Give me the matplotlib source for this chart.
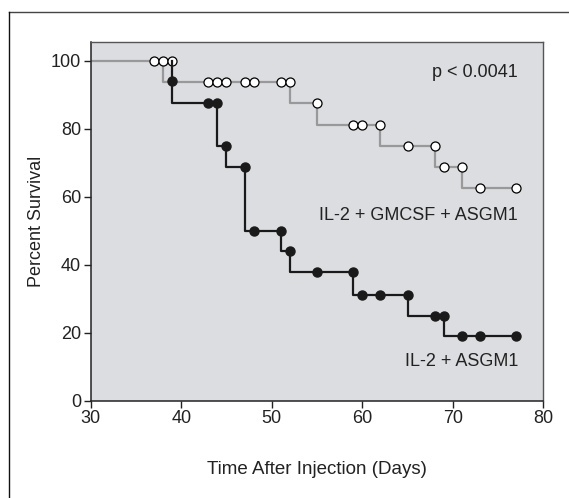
import matplotlib
matplotlib.use('Agg')
import matplotlib.pyplot as plt
from matplotlib.lines import Line2D

plt.rcParams['font.family'] = ['Liberation Sans', 'DejaVu Sans']

# IL-2 + GMCSF + ASGM1 (gris, circulos abiertos)
gm_t = [30, 38, 52, 55, 62, 68, 71, 77]
gm_s = [100, 93.75, 87.5, 81.25, 75, 68.75, 62.5, 62.5]
gm_cens_t = [37, 38, 39, 43, 44, 45, 47, 48, 51, 52, 55, 59, 60, 62, 65, 68, 69, 71, 73, 77]
gm_cens_s = [100, 100, 100, 93.75, 93.75, 93.75, 93.75, 93.75, 93.75, 93.75,
             87.5, 81.25, 81.25, 81.25, 75, 75, 68.75, 68.75, 62.5, 62.5]

# IL-2 + ASGM1 (negro, circulos llenos)
as_t = [39, 44, 45, 47, 51, 52, 59, 65, 69, 77]
as_s = [100, 75, 68.75, 50, 44, 38, 31.25, 25, 19, 19]
as_pts_t = [39, 43, 44, 45, 47, 48, 51, 52, 55, 59, 60, 62, 65, 68, 69, 71, 73, 77]
as_pts_s = [94, 87.5, 87.5, 75, 68.75, 50, 50, 44, 38, 38, 31.25, 31.25, 31.25,
            25, 25, 19, 19, 19]

fig = plt.figure(figsize=(5.69, 4.98), dpi=100)
ax = fig.add_axes([0.1594, 0.1954, 0.7954, 0.7197])
ax.set_facecolor('#dcdde0')

# escalones: el primero cae a 87.5 en el dia 39
as_t_full = [39, 39] + as_t[1:]
as_s_full = [100, 87.5] + as_s[1:]

ax.step(gm_t, gm_s, where='post', color='#999999', lw=1.6, zorder=2)
ax.plot(gm_cens_t, gm_cens_s, 'o', ms=6.5, mfc='white', mec='black', mew=0.9, zorder=3)
ax.step(as_t_full, as_s_full, where='post', color='#1a1a1a', lw=1.6, zorder=4)
ax.plot(as_pts_t, as_pts_s, 'o', ms=6.5, mfc='#1a1a1a', mec='#1a1a1a', zorder=5)

ax.set_xlim(30, 80)
ax.set_ylim(0, 105.5)
ax.set_xticks([30, 40, 50, 60, 70, 80])
ax.set_yticks([0, 20, 40, 60, 80, 100])
ax.tick_params(direction='out', length=5, width=1, labelsize=13, pad=2, colors='#222222')
for s in ['left', 'bottom']:
    ax.spines[s].set_color('#222222')
    ax.spines[s].set_linewidth(1.1)
for s in ['top', 'right']:
    ax.spines[s].set_color('#555555')
    ax.spines[s].set_linewidth(1.0)

ax.set_xlabel('Time After Injection (Days)', fontsize=13.5, color='#222222', labelpad=24)
ax.set_ylabel('Percent Survival', fontsize=13, color='#222222', labelpad=4)

ax.text(77.2, 96.5, 'p < 0.0041', ha='right', va='center', fontsize=13, color='#222222')
ax.text(77.2, 54.6, 'IL-2 + GMCSF + ASGM1', ha='right', va='center', fontsize=13, color='#222222')
ax.text(77.3, 11.6, 'IL-2 + ASGM1', ha='right', va='center', fontsize=13, color='#222222')

# marco exterior (solo arriba e izquierda visibles)
fig.add_artist(Line2D([9.3 / 569, 1], [1 - 11.7 / 498, 1 - 11.7 / 498], color='#444444', lw=1.0))
fig.add_artist(Line2D([9.3 / 569, 9.3 / 569], [0, 1 - 11.7 / 498], color='#111111', lw=1.0))

fig.savefig('out.png', dpi=100)
